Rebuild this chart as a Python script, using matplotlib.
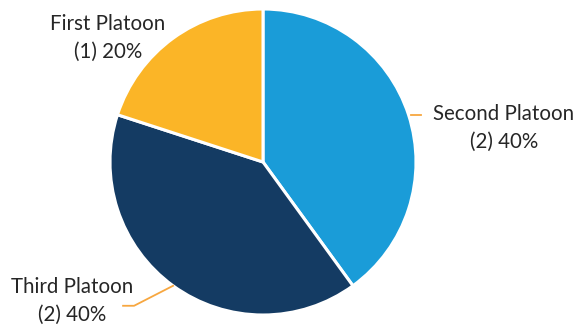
import numpy as np
import matplotlib.pyplot as plt

platoons = ["Second Platoon", "Third Platoon", "First Platoon"]
counts = [2, 2, 1]
shares = [40, 40, 20]
colors = ["#1a9cd8", "#143b63", "#fbb527"]

plt.rcParams["font.family"] = ["Lato", "DejaVu Sans"]

fig = plt.figure(figsize=(5.8, 3.26), dpi=100)
ax = fig.add_axes([0, 0, 1, 1])

cx, cy, r = 263, 164, 153
wedges, _ = ax.pie(counts, colors=colors, startangle=90, counterclock=False,
                   center=(cx, cy), radius=r, frame=True,
                   wedgeprops=dict(edgecolor="white", linewidth=2.2))
ax.set_xlim(0, 580)
ax.set_ylim(0, 326)
ax.set_aspect("equal")
ax.axis("off")

line_col = "#f7a740"
txt_col = "#262626"

# label positions (text centre) for each slice
label_pos = {
    "Second Platoon": (504, 198),
    "Third Platoon": (72, 25),
    "First Platoon": (108, 288),
}

for w, name, n, pct in zip(wedges, platoons, counts, shares):
    tx, ty = label_pos[name]
    ax.text(tx, ty, f"{name}\n({n}) {pct}%", ha="center", va="center",
            fontsize=14.8, color=txt_col, linespacing=1.45)
    mid = np.deg2rad((w.theta1 + w.theta2) / 2)
    px, py = cx + r * np.cos(mid), cy + r * np.sin(mid)
    if name == "Second Platoon":
        ax.plot([px + 2, px + 12], [py, py], color=line_col, lw=1.3)
    elif name == "Third Platoon":
        ax.plot([px, px - 39, px - 50], [py, py - 20, py - 20],
                color=line_col, lw=1.3)

fig.savefig("out.png", dpi=100)
